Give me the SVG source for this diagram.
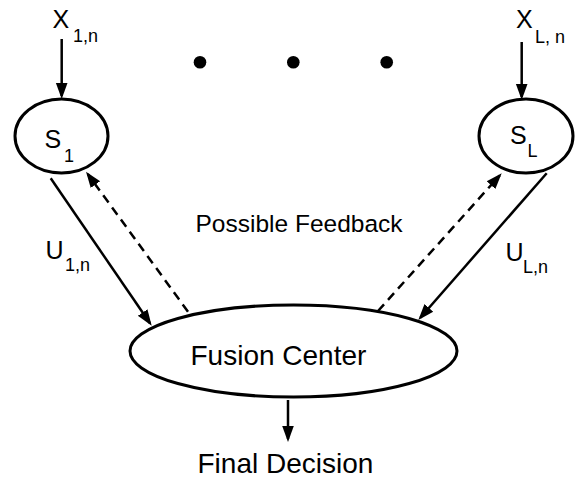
<svg xmlns="http://www.w3.org/2000/svg" width="579" height="481" viewBox="0 0 579 481">
<style>
.node{fill:#fff;stroke:#000;stroke-width:3}
.t{font-family:"Liberation Sans",Arial,sans-serif;fill:#000}
.big{font-size:25px}
.sub{font-size:18px}
.lbl{font-size:28px}
.fb{font-size:24.5px}
.c{stroke:#000;stroke-width:2.5;fill:none}
.d{stroke-dasharray:9,6}
</style>
<defs>
<marker id="ah" markerUnits="userSpaceOnUse" markerWidth="18" markerHeight="14" viewBox="0 0 18 14" refX="13" refY="7" orient="auto">
<path d="M0,1.2 L16,7 L0,12.8 Z" fill="#000"/>
</marker>
</defs>
<g id="connectors">
<line class="c" x1="61.7" y1="39" x2="61.7" y2="96" marker-end="url(#ah)"/>
<line class="c" x1="521.7" y1="42" x2="521.7" y2="97" marker-end="url(#ah)"/>
<line class="c" x1="50.7" y1="178.3" x2="150" y2="323.2" marker-end="url(#ah)"/>
<line class="c" x1="546.7" y1="173.3" x2="420.3" y2="317.7" marker-end="url(#ah)"/>
<line class="c d" x1="188" y1="311.7" x2="87.8" y2="174.1" marker-end="url(#ah)"/>
<line class="c d" x1="378" y1="311" x2="499.7" y2="175.5" marker-end="url(#ah)"/>
<line class="c" x1="288" y1="400" x2="288" y2="439" marker-end="url(#ah)"/>
</g>
<g id="S1">
<ellipse class="node" cx="61.5" cy="136" rx="46.5" ry="37"/>
<text class="t big" x="44.5" y="148">S</text><text class="t sub" x="64" y="162">1</text>
</g>
<g id="SL">
<ellipse class="node" cx="526" cy="136" rx="47" ry="37"/>
<text class="t big" x="510" y="143.5">S</text><text class="t sub" x="527.5" y="157">L</text>
</g>
<g id="fusion">
<ellipse class="node" cx="293.5" cy="351" rx="163.5" ry="46"/>
<text class="t lbl" x="190.5" y="365">Fusion Center</text>
</g>
<g id="dots">
<circle cx="200" cy="62.3" r="6.3"/>
<circle cx="293.3" cy="62.3" r="6.3"/>
<circle cx="386.7" cy="62.3" r="6.3"/>
</g>
<g id="labels">
<text class="t big" x="52.5" y="28">X</text><text class="t sub" x="73" y="42">1,n</text>
<text class="t big" x="516" y="28">X</text><text class="t sub" x="535" y="42.5">L, n</text>
<text class="t big" x="45.5" y="259">U</text><text class="t sub" x="65" y="270.5">1,n</text>
<text class="t big" x="505.5" y="261">U</text><text class="t sub" x="523" y="273">L,n</text>
<text class="t fb" x="195.5" y="232">Possible Feedback</text>
<text class="t lbl" x="197.5" y="472.5">Final Decision</text>
</g>
</svg>
